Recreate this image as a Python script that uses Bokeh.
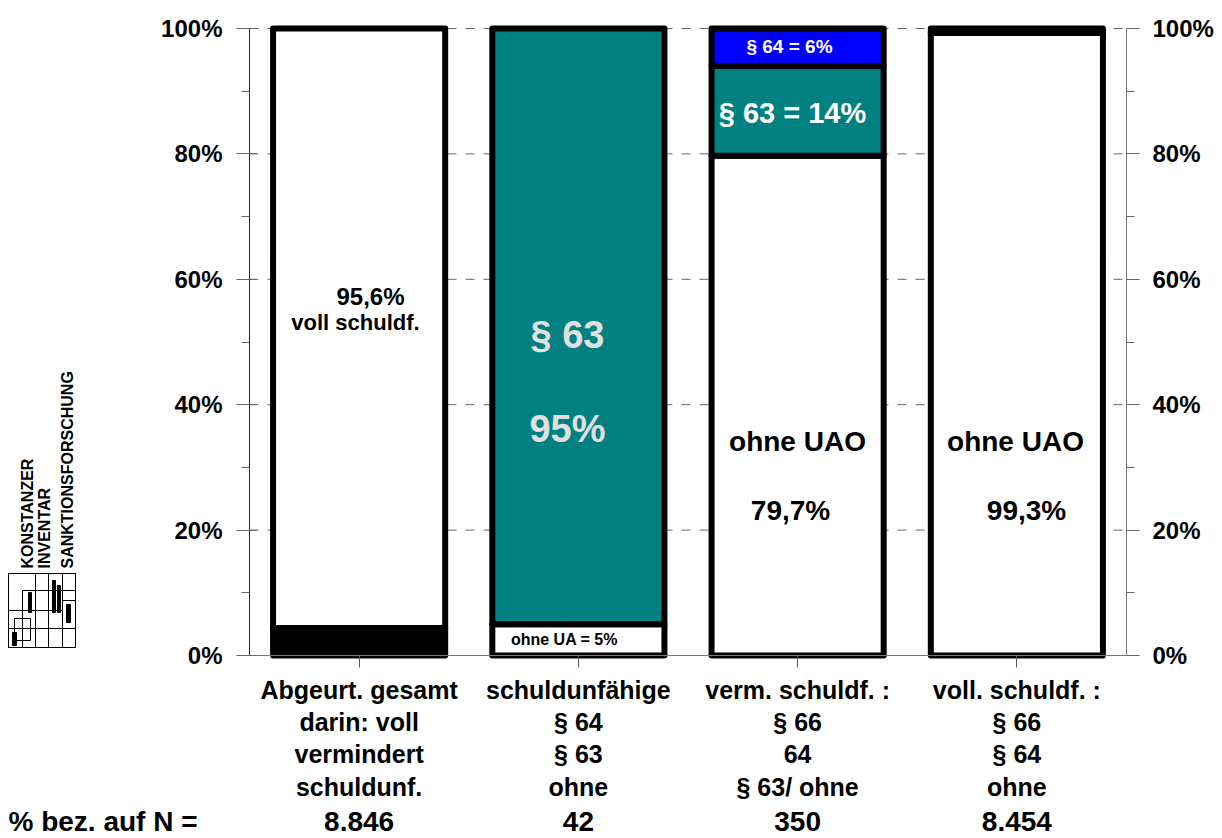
import math
from bokeh.plotting import figure
from bokeh.models import (Range1d, LinearAxis, FixedTicker, PrintfTickFormatter,
                          Label, BoxAnnotation)
from bokeh.embed import file_html
from bokeh.resources import INLINE

# ---------------- data ----------------
categories = ["Abgeurt. gesamt", "schuldunfähige", "verm. schuldf. :", "voll. schuldf. :"]
sub_line2 = ["darin: voll", "§ 64", "§ 66", "§ 66"]
sub_line3 = ["vermindert", "§ 63", "64", "§ 64"]
sub_line4 = ["schuldunf.", "ohne", "§ 63/ ohne", "ohne"]
n_label = "% bez. auf N ="
n_values = ["8.846", "42", "350", "8.454"]

# stacked segments, bottom to top (percent)
seg_bar = [0, 0, 1, 1, 2, 2, 2, 3, 3]
seg_value = [4.4, 95.6, 5.0, 95.0, 79.7, 14.3, 6.0, 99.3, 0.7]
seg_color = ["#000000", "#FFFFFF", "#FFFFFF", "#008080", "#FFFFFF", "#008080", "#0000FF", "#FFFFFF", "#000000"]

seg_texts = ["95,6%", "voll schuldf.", "§ 63", "95%", "ohne UA = 5%", "§ 64 = 6%",
             "§ 63 = 14%", "ohne UAO", "79,7%", "ohne UAO", "99,3%"]

y_ticks = [0, 20, 40, 60, 80, 100]
y_minor = [10, 30, 50, 70, 90]

logo_texts = ["KONSTANZER", "INVENTAR", "SANKTIONSFORSCHUNG"]

# ---------------- layout helpers ----------------
FONT = "Liberation Sans"
W, H = 1222, 838
PL, PR = 249.0, 1126.0     # x pixel of category 0 and 4
PB, PT = 655.0, 28.0       # y pixel of 0% and 100%
BAR_W = 0.785
NCAT = len(categories)


def dx(px):
    return (px - PL) / (PR - PL) * NCAT


def dy(py):
    return (PB - py) / (PB - PT) * 100.0


p = figure(width=W, height=H, x_range=Range1d(dx(0), dx(W)), y_range=Range1d(dy(H), dy(0)),
           x_axis_type=None, y_axis_type=None,
           output_backend="svg", toolbar_location=None,
           min_border=0, min_border_left=0, min_border_right=0,
           min_border_top=0, min_border_bottom=0)
p.outline_line_color = None
p.background_fill_color = "white"
p.border_fill_color = "white"

# dashed grid lines between the two value axes
grid_vals = [t for t in y_ticks if t > 0]
p.segment(x0=[0] * len(grid_vals), x1=[NCAT] * len(grid_vals), y0=grid_vals, y1=grid_vals,
          line_color="#666666", line_width=1, line_dash="9 9")


def style_value_axis(ax, tick_in, standoff, line_color):
    ax.major_tick_in = tick_in
    ax.major_tick_out = 13
    ax.minor_tick_in = 0
    ax.minor_tick_out = 8
    ax.axis_line_color = line_color
    ax.major_tick_line_color = "#666666"
    ax.minor_tick_line_color = "#666666"
    ax.major_label_standoff = standoff
    ax.major_label_text_font = FONT
    ax.major_label_text_font_style = "bold"
    ax.major_label_text_font_size = "24px"
    ax.major_label_text_color = "black"


left_ax = LinearAxis(fixed_location=0, bounds=(0, 100),
                     ticker=FixedTicker(ticks=y_ticks, minor_ticks=y_minor),
                     formatter=PrintfTickFormatter(format="%d%%"))
style_value_axis(left_ax, 7, 14, "#222222")
p.add_layout(left_ax, "left")

right_ax = LinearAxis(fixed_location=NCAT, bounds=(0, 100),
                      ticker=FixedTicker(ticks=y_ticks, minor_ticks=y_minor),
                      formatter=PrintfTickFormatter(format="%d%%"))
style_value_axis(right_ax, 0, 13, "#777777")
p.add_layout(right_ax, "right")

# category axis with multi-line labels
cat_ticks = [i + 0.5 for i in range(NCAT)]
overrides = {}
for i, t in enumerate(cat_ticks):
    overrides[t] = "\n".join([categories[i], sub_line2[i], sub_line3[i], sub_line4[i]])
bot_ax = LinearAxis(fixed_location=0, bounds=(0, NCAT),
                    ticker=FixedTicker(ticks=cat_ticks, minor_ticks=[]),
                    major_label_overrides=overrides)
bot_ax.major_tick_in = 0
bot_ax.major_tick_out = 12
bot_ax.minor_tick_in = 0
bot_ax.minor_tick_out = 0
bot_ax.axis_line_color = "#777777"
bot_ax.major_tick_line_color = "#555555"
bot_ax.major_label_standoff = 8
bot_ax.major_label_text_font = FONT
bot_ax.major_label_text_font_style = "bold"
bot_ax.major_label_text_font_size = "25px"
bot_ax.major_label_text_line_height = 1.16
bot_ax.major_label_text_color = "black"
p.add_layout(bot_ax, "below")

# stacked bars
lefts, rights, bottoms, tops = [], [], [], []
cum = [0.0] * NCAT
for b, v in zip(seg_bar, seg_value):
    bottoms.append(cum[b])
    tops.append(cum[b] + v)
    cum[b] += v
    lefts.append(b + 0.5 - BAR_W / 2)
    rights.append(b + 0.5 + BAR_W / 2)

p.quad(left=lefts, right=rights, bottom=bottoms, top=tops,
       fill_color=seg_color, line_color="black", line_width=6, line_join="round")


def lab(text, px, py, size, color="black", align="center", baseline="middle", angle=0.0):
    p.add_layout(Label(x=dx(px), y=dy(py), text=text, text_font=FONT,
                       text_font_style="bold", text_font_size=f"{size}px",
                       text_color=color, text_align=align, text_baseline=baseline,
                       angle=angle))


# texts inside bars (pixel anchor = visual centre)
seg_pos = [(370, 296, 24, "black"), (355, 322, 22, "black"),
           (567, 334, 38, "#E0E0E0"), (567, 428, 38, "#E0E0E0"),
           (564, 639, 16, "black"), (789, 46, 19, "white"), (792, 112, 29, "white"),
           (797, 441, 28, "black"), (790, 510, 28, "black"),
           (1015, 441, 28, "black"), (1026, 510, 28, "black")]
for t, (px, py, s, c) in zip(seg_texts, seg_pos):
    lab(t, px, py, s, c)

# N row
lab(n_label, 8, 821, 28, align="left")
for i, t in enumerate(n_values):
    xc = PL + (i + 0.5) * (PR - PL) / NCAT
    lab(t, xc, 821, 28)

# logo: rotated texts
for t, px in zip(logo_texts, [27, 44, 67]):
    lab(t, px, 568, 16, align="left", baseline="middle", angle=math.pi / 2)

# logo: little grid drawing
logo_boxes = [(8, 75, 573, 647), (8, 48, 573, 610), (22, 48, 590, 628), (35, 62, 573, 647),
              (8, 35, 610, 647), (48, 75, 590, 628), (14, 30, 618, 640), (8, 22, 628, 647),
              (62, 75, 573, 600), (48, 62, 610, 647)]
for (x0, x1, y0, y1) in logo_boxes:
    p.add_layout(BoxAnnotation(left=dx(x0), right=dx(x1), top=dy(y0), bottom=dy(y1),
                               fill_alpha=0, line_color="black", line_width=1,
                               line_alpha=1))
for (x0, x1, y0, y1) in [(52, 55, 580, 612), (57, 60, 585, 612), (28, 31, 592, 612),
                         (12, 16, 632, 645), (66, 70, 604, 622)]:
    p.add_layout(BoxAnnotation(left=dx(x0), right=dx(x1), top=dy(y0), bottom=dy(y1),
                               fill_color="black", fill_alpha=1, line_color="black",
                               line_width=1, line_alpha=1))

open("out.html", "w").write(file_html(p, INLINE))
